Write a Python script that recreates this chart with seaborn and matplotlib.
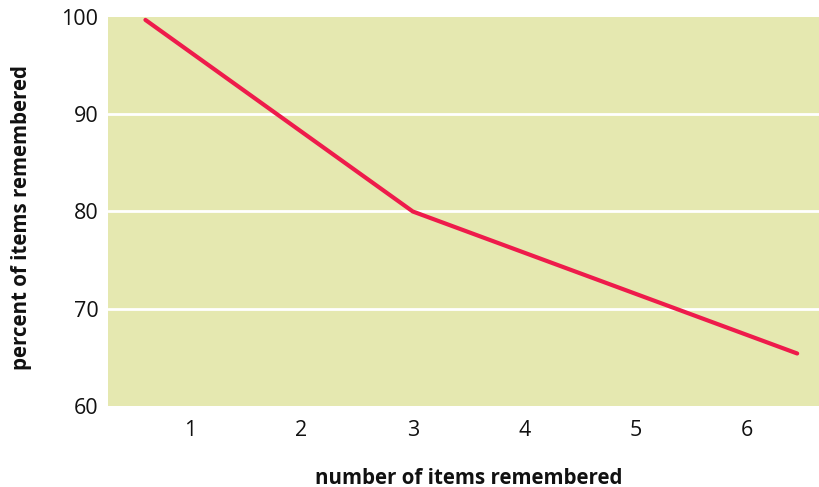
import matplotlib
matplotlib.use("Agg")
import matplotlib.pyplot as plt
import seaborn as sns
import pandas as pd

# data
x_values = [0.6, 3.0, 6.45]
y_values = [99.7, 80.0, 65.4]
x_ticks = [1, 2, 3, 4, 5, 6]
y_ticks = [60, 70, 80, 90, 100]
x_label = "number of items remembered"
y_label = "percent of items remembered"

sns.set_theme(style="white")
plt.rcParams['font.family'] = ['Open Sans', 'DejaVu Sans']

df = pd.DataFrame({"x": x_values, "y": y_values})

fig = plt.figure(figsize=(8.2, 4.87), dpi=100)
ax = fig.add_axes([108/820, 1 - 406/487, 1 - 108/820, (406 - 17)/487])
ax.set_facecolor("#e5e8b0")

for yv in [70, 80, 90]:
    ax.axhline(yv, color="white", lw=2, zorder=1)

sns.lineplot(data=df, x="x", y="y", ax=ax, color="#ee1b4b", lw=3,
             solid_capstyle="round", zorder=3)

ax.set_xlim(0.264, 6.655)
ax.set_ylim(60, 100)
ax.set_xticks(x_ticks)
ax.set_yticks(y_ticks)
ax.tick_params(axis="both", length=0, labelsize=15.5, colors="#111111")
ax.tick_params(axis="y", pad=7)
ax.tick_params(axis="x", pad=10)
for s in ax.spines.values():
    s.set_visible(False)

ax.set_xlabel("")
ax.set_ylabel("")
fig.text(469/820, 1 - 478/487, x_label, ha="center", va="center",
         fontsize=14.8, fontweight="bold", color="#111111")
fig.text(22/820, 1 - 218/487, y_label, ha="center", va="center",
         rotation=90, fontsize=14.8, fontweight="bold", color="#111111")

fig.savefig("out.png", dpi=100)
